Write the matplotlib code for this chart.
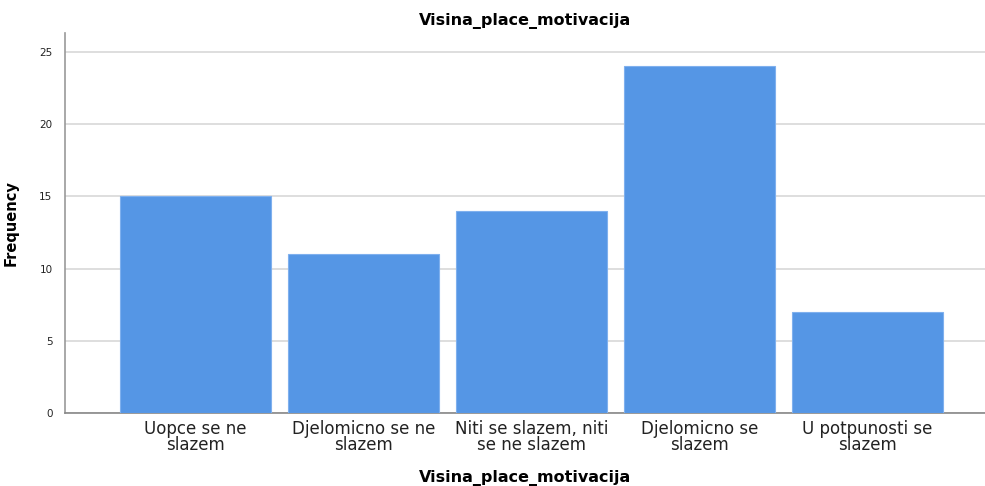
import matplotlib
matplotlib.use("Agg")
import matplotlib.pyplot as plt

categories = ["Uopce se ne\nslazem", "Djelomicno se ne\nslazem", "Niti se slazem, niti\nse ne slazem",
              "Djelomicno se\nslazem", "U potpunosti se\nslazem"]
frequencies = [15, 11, 14, 24, 7]
yticks = [0, 5, 10, 15, 20, 25]

plt.rcParams['font.family'] = ['DejaVu Sans']

fig = plt.figure(figsize=(9.85, 4.86), dpi=100)
ax = fig.add_axes([65/985, 73/486, 920/985, 380/486])

x = list(range(len(categories)))
ax.bar(x, frequencies, width=0.9, color="#5596e5", edgecolor="#7fb0ee", linewidth=0.8, zorder=3)

ax.set_xlim(-0.777, 4.70)
ax.set_ylim(0, 26.3)
ax.set_yticks(yticks)
ax.set_yticklabels([str(t) for t in yticks], fontsize=7.5)
ax.set_xticks(x)
ax.set_xticklabels(categories, fontsize=12, linespacing=0.88, color="#333333")
ax.tick_params(axis='both', length=0, colors="#222222")
ax.tick_params(axis='y', pad=9)
ax.tick_params(axis='x', pad=5)

ax.grid(axis='y', color="#d4d4d4", linewidth=1.1, zorder=0)
for s in ['top', 'right']:
    ax.spines[s].set_visible(False)
ax.spines['left'].set_color("#999999")
ax.spines['bottom'].set_color("#888888")
ax.spines['left'].set_linewidth(1.2)
ax.spines['bottom'].set_linewidth(1.2)

ax.set_title("Visina_place_motivacija", fontsize=11.5, fontweight='bold', pad=6)
ax.set_xlabel("Visina_place_motivacija", fontsize=11.5, fontweight='bold', labelpad=11)
ax.set_ylabel("Frequency", fontsize=10.5, fontweight='bold', labelpad=15)

fig.savefig("out.png", dpi=100)
